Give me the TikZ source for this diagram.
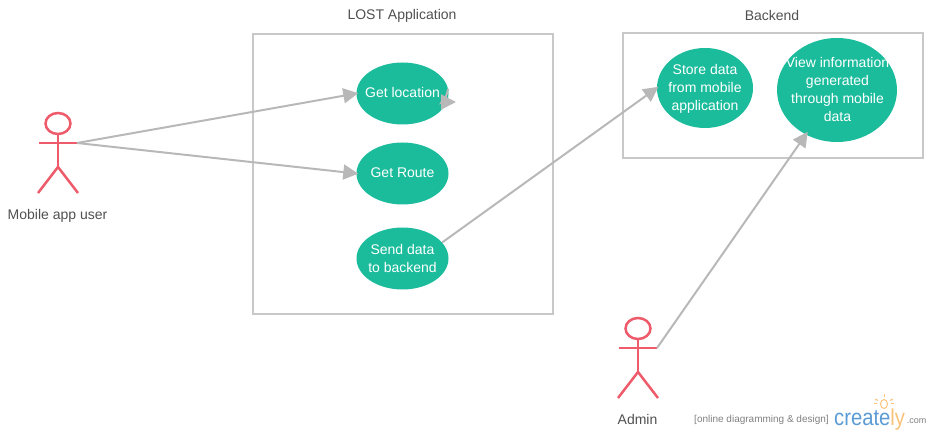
\documentclass[tikz,border=0pt]{standalone}
\usepackage{fontspec}
\setmainfont{Liberation Sans}
\usetikzlibrary{shapes.geometric,arrows.meta}
\definecolor{ucgreen}{HTML}{1BBC9B}
\definecolor{actred}{HTML}{EE5C6C}
\definecolor{edgegray}{HTML}{B8B8B8}
\definecolor{boxgray}{HTML}{C8C8C8}
\definecolor{txtgray}{HTML}{505050}
\definecolor{logoblue}{HTML}{5B9BD5}
\definecolor{logoorange}{HTML}{F9C27A}
\tikzset{
  ucase/.style={ellipse,fill=ucgreen,draw=none,inner sep=0pt},
  ucl/.style={text=white,align=center,font=\fontsize{14}{18}\selectfont,inner sep=0pt},
  sysbox/.style={rectangle,draw=boxgray,line width=2pt,fill=none,inner sep=0pt},
  captxt/.style={text=txtgray,font=\fontsize{14}{17}\selectfont,inner sep=0pt},
  link/.style={draw=edgegray,line width=2pt,-{Triangle[length=15pt,width=15pt,fill=edgegray]},shorten >=-2pt},
  actline/.style={draw=actred,line width=2.5pt},
}
\newcommand{\actorfig}[3]{%
  \node[ellipse,draw=actred,line width=2.5pt,minimum width=25pt,minimum height=21pt,inner sep=0pt] (#1head) at (#2,#3) {};
  \coordinate (#1lh) at (#2-19,#3+19.5);
  \coordinate (#1rh) at (#2+19,#3+19.5);
  \coordinate (#1hip) at (#2,#3+43.5);
  \coordinate (#1lf) at (#2-20,#3+69.5);
  \coordinate (#1rf) at (#2+20,#3+69.5);
  \draw[actline] (#1head.south) -- (#1hip);
  \draw[actline] (#1lh) -- (#1rh);
  \draw[actline] (#1lf) -- (#1hip) -- (#1rf);
}
\begin{document}
\begin{tikzpicture}[x=1pt,y=-1pt]
\useasboundingbox (0,0) rectangle (932,435);
\node[sysbox,minimum width=300pt,minimum height=279.5pt] (lost) at (403,174.25) {};
\node[sysbox,minimum width=300pt,minimum height=125pt] (back) at (773,95.5) {};
\node[captxt] (lostt) at (402,16) {LOST Application};
\node[captxt] (backt) at (772,15.5) {Backend};

\node[ucase,minimum width=92pt,minimum height=62pt,label={[ucl,yshift=1pt]center:Get location}] (gl) at (402.5,93.5) {};
\node[ucase,minimum width=92pt,minimum height=62pt,label={[ucl,yshift=1pt]center:Get Route}] (gr) at (402.5,173.5) {};
\node[ucase,minimum width=92pt,minimum height=62pt,label={[ucl]center:Send data\\to backend}] (sb) at (402.5,258.5) {};
\node[ucase,minimum width=96pt,minimum height=80pt,label={[ucl,yshift=-1pt]center:Store data\\from mobile\\application}] (sd) at (705,88) {};
\node[ucase,minimum width=120pt,minimum height=104pt,label={[ucl,yshift=.5pt,xshift=.5pt]center:View information\\generated\\through mobile\\data}] (vi) at (837,90) {};

\actorfig{u}{58}{123.5}
\actorfig{a}{638}{328.5}
\node[captxt] (ut) at (57.5,215.5) {Mobile app user};
\node[captxt] (at) at (637.5,419.5) {Admin};

\draw[link] (urh) -- (gl.west);
\draw[link] (urh) -- (gr.west);
\draw[link] (sb.22) -- (sd.west);
\draw[link,shorten >=-3.5pt] (arh) -- (vi.235);
\coordinate (self) at (454,102);
\draw[link] (gl.6) .. controls (445,104) and (440,102) .. (self);

\node[inner sep=0pt,text=gray,font=\fontsize{10}{11}\selectfont] (tag) at (761.5,420) {[online diagramming \& design]};
\node[inner sep=0pt,font=\fontsize{23}{24}\selectfont,anchor=base west] (logo) at (834,426) {\scalebox{.88}[1]{\textcolor{logoblue}{create}\textcolor{logoorange}{ly}}};
\node[inner sep=0pt,text=gray,font=\fontsize{9}{10}\selectfont] (dom) at (916.5,421) {.com};
\node[ellipse,draw=logoorange,line width=1pt,minimum width=7pt,minimum height=9pt,inner sep=0pt] (bulb) at (884,404) {};
\foreach \a in {30,90,150,0,180}
  \draw[logoorange,line width=1pt] (bulb.center) ++(\a:-7) -- ++(\a:-3);
\end{tikzpicture}
\end{document}
